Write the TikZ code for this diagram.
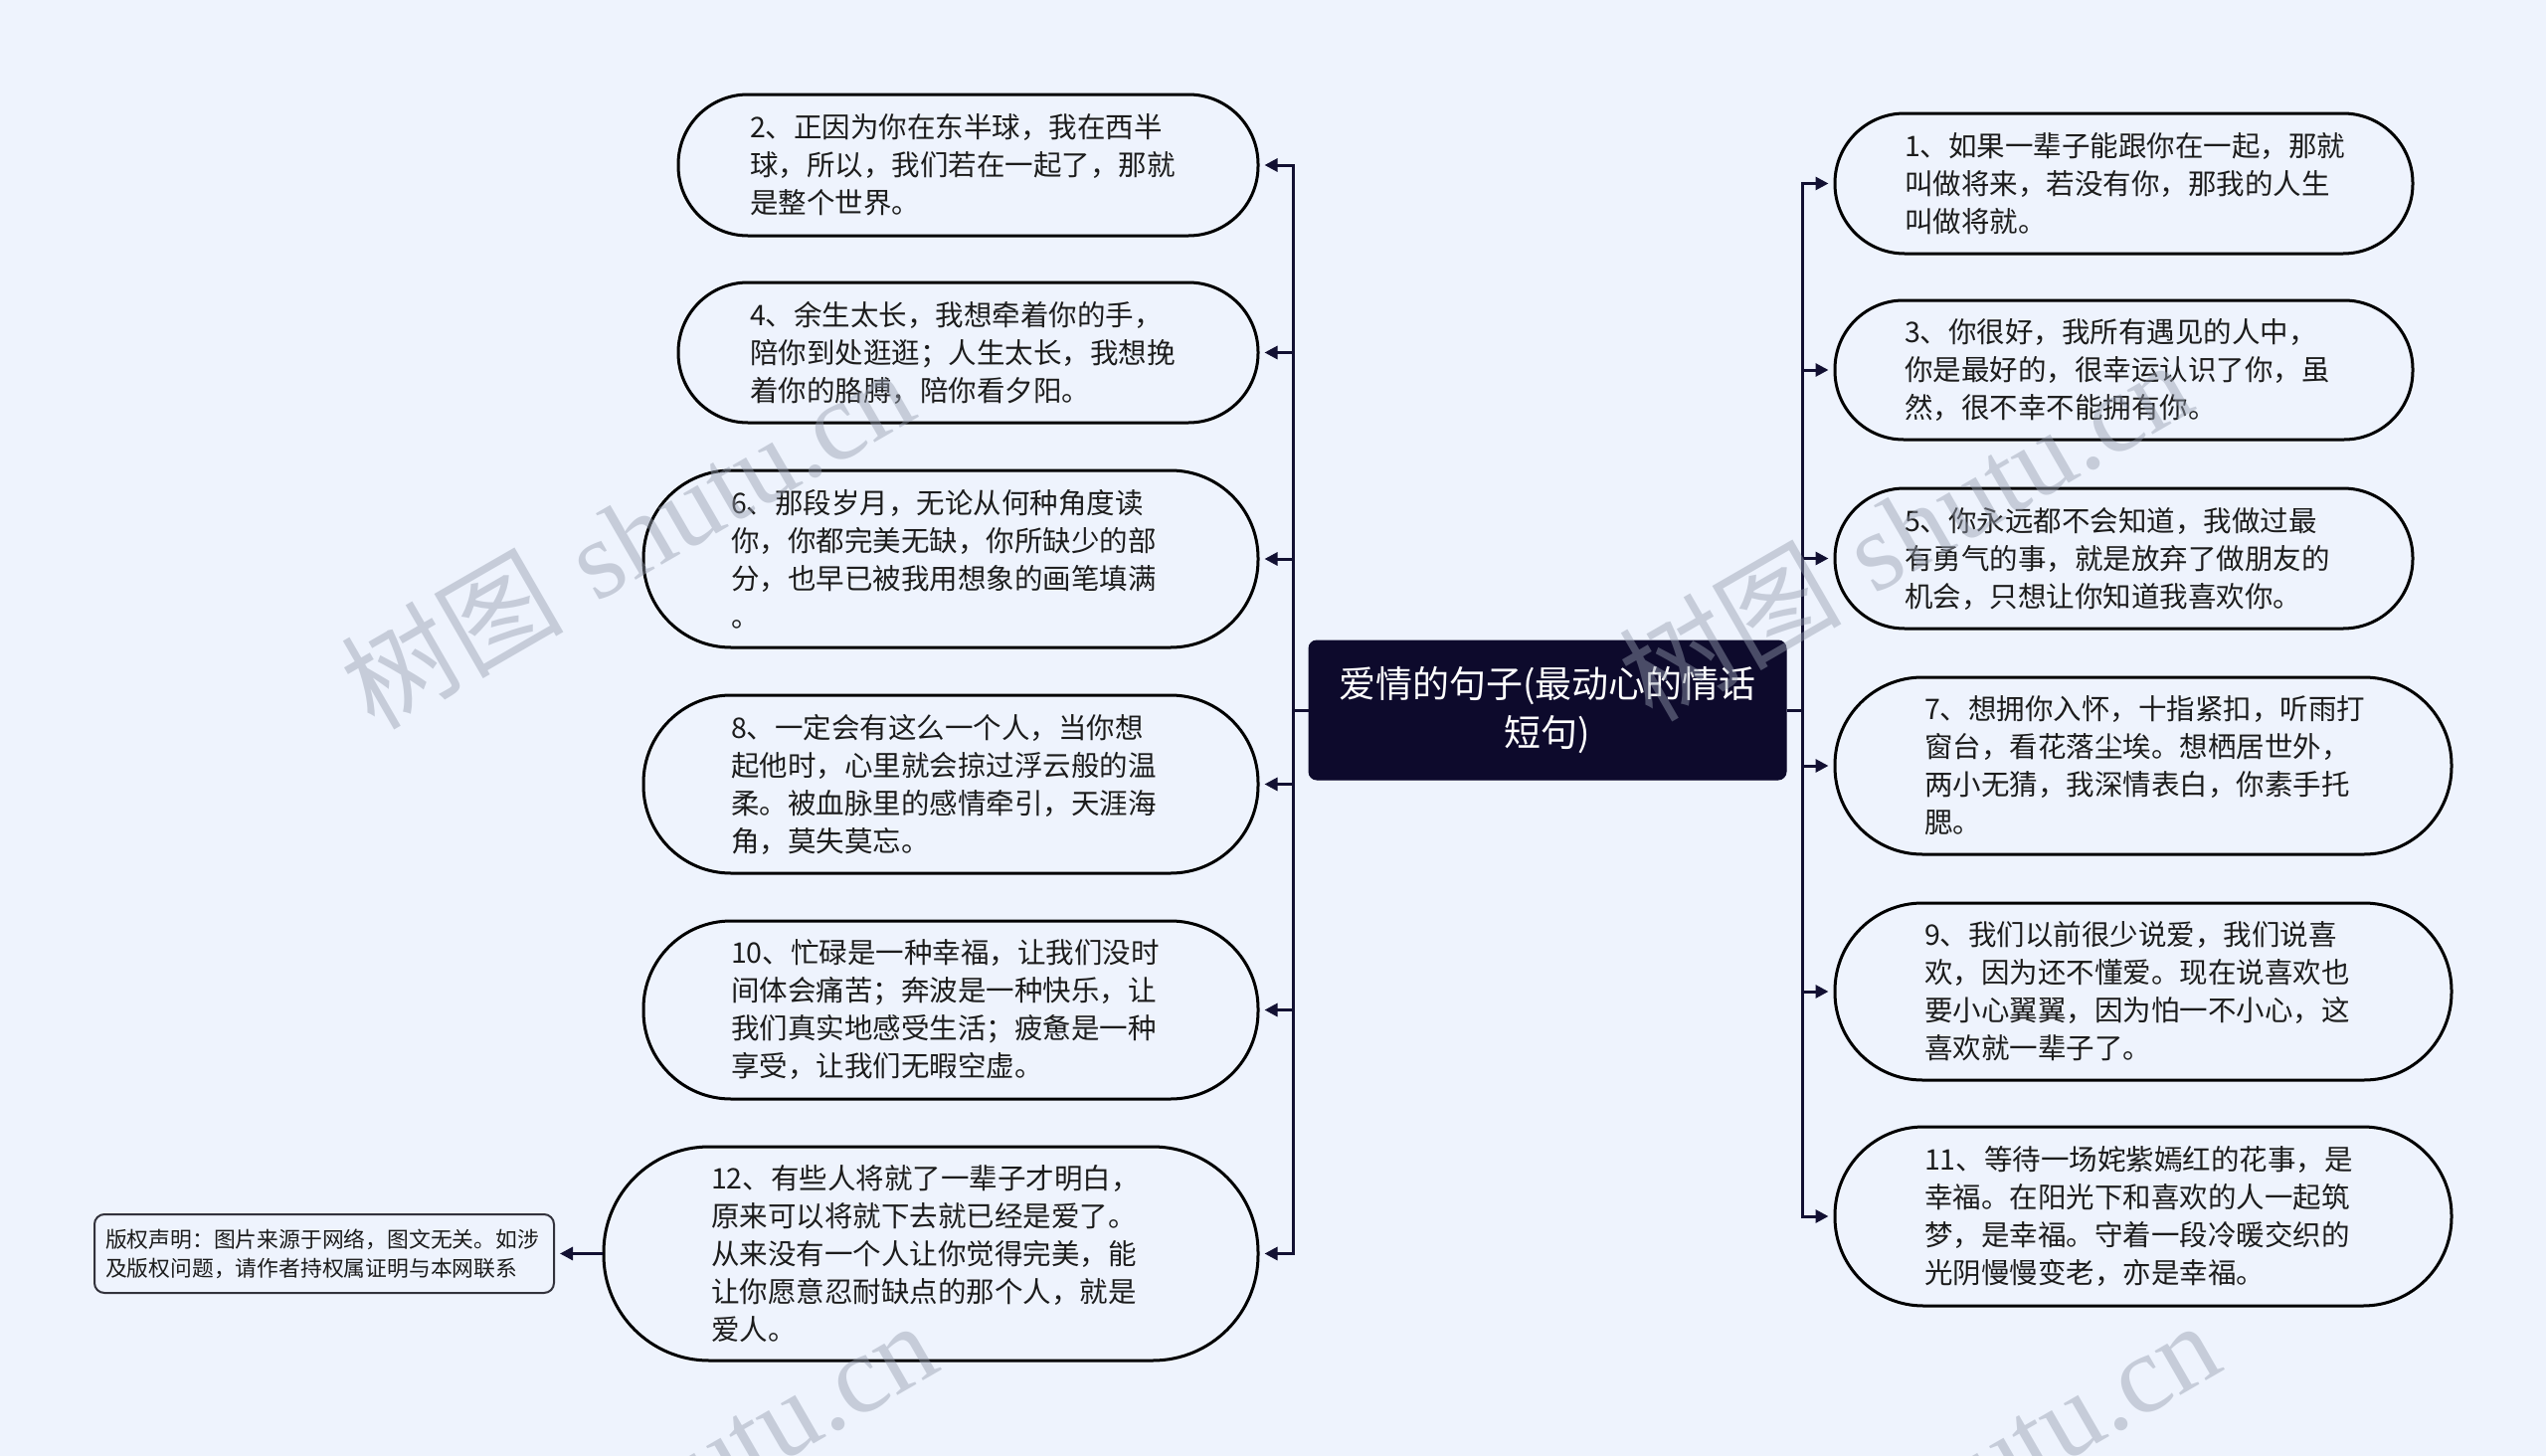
\documentclass[tikz,border=0pt]{standalone}
\usepackage{fontspec}
\newfontfamily\cjk{Noto Sans CJK SC}
\newfontfamily\wmserif{Liberation Serif}
\usetikzlibrary{arrows.meta}
\definecolor{bgc}{RGB}{238,243,253}
\definecolor{rootc}{RGB}{13,10,44}
\definecolor{linec}{RGB}{18,16,50}
\definecolor{txtc}{RGB}{28,28,28}
\definecolor{wmc}{RGB}{150,158,175}
\tikzset{
  leaf/.style={draw=black, line width=3pt, fill=bgc, align=left, text=txtc,
    inner ysep=0pt, font=\cjk\fontsize{28.5}{38}\selectfont},
  rootbox/.style={fill=rootc, draw=rootc, line width=1pt, rounded corners=8pt, text=white,
    align=center, font=\cjk\fontsize{37}{49}\selectfont},
  copybox/.style={draw={rgb,255:red,50;green,50;blue,60}, line width=2pt, fill=bgc, align=left, text=txtc,
    rounded corners=10pt, inner ysep=0pt, font=\cjk\fontsize{21.8}{29}\selectfont},
  conn/.style={draw=linec, line width=3pt},
  arr/.style={draw=linec, line width=3pt, -{Triangle[length=13pt,width=13pt]}, shorten >=5pt},
  wm/.style={text=wmc, opacity=0.45, rotate=30, font=\fontsize{112}{112}\selectfont, inner sep=0pt}
}
\begin{document}
\begin{tikzpicture}[x=1pt,y=-1pt]
\useasboundingbox (0,0) rectangle (2560,1464);
\fill[bgc] (0,0) rectangle (2560,1464);

% root
\node[rootbox, minimum width=480pt, minimum height=140pt] (c) at (1556,714) {爱情的句子(最动心的情话\\短句)};

% left leaves
\node[leaf, minimum width=583pt, minimum height=142pt, text width=439pt, inner xsep=72pt, rounded corners=70pt] (n2) at (973.5,166)
 {2、正因为你在东半球，我在西半\\球，所以，我们若在一起了，那就\\是整个世界。};
\node[leaf, minimum width=583pt, minimum height=141pt, text width=439pt, inner xsep=72pt, rounded corners=70pt] (n4) at (973.5,354.5)
 {4、余生太长，我想牵着你的手，\\陪你到处逛逛；人生太长，我想挽\\着你的胳膊，陪你看夕阳。};
\node[leaf, minimum width=618pt, minimum height=178pt, text width=442pt, inner xsep=88pt, rounded corners=88pt] (n6) at (956,562)
 {6、那段岁月，无论从何种角度读\\你，你都完美无缺，你所缺少的部\\分，也早已被我用想象的画笔填满\\。};
\node[leaf, minimum width=618pt, minimum height=179pt, text width=442pt, inner xsep=88pt, rounded corners=88pt] (n8) at (956,788.5)
 {8、一定会有这么一个人，当你想\\起他时，心里就会掠过浮云般的温\\柔。被血脉里的感情牵引，天涯海\\角，莫失莫忘。};
\node[leaf, minimum width=618pt, minimum height=179pt, text width=442pt, inner xsep=88pt, rounded corners=88pt] (n10) at (956,1015.5)
 {10、忙碌是一种幸福，让我们没时\\间体会痛苦；奔波是一种快乐，让\\我们真实地感受生活；疲惫是一种\\享受，让我们无暇空虚。};
\node[leaf, minimum width=658pt, minimum height=215pt, text width=442pt, inner xsep=108pt, rounded corners=106pt] (n12) at (936,1260.5)
 {12、有些人将就了一辈子才明白，\\原来可以将就下去就已经是爱了。\\从来没有一个人让你觉得完美，能\\让你愿意忍耐缺点的那个人，就是\\爱人。};

% right leaves
\node[leaf, minimum width=581pt, minimum height=141pt, text width=441pt, inner xsep=70pt, rounded corners=70pt] (n1) at (2135.5,184.5)
 {1、如果一辈子能跟你在一起，那就\\叫做将来，若没有你，那我的人生\\叫做将就。};
\node[leaf, minimum width=581pt, minimum height=140pt, text width=441pt, inner xsep=70pt, rounded corners=69pt] (n3) at (2135.5,372)
 {3、你很好，我所有遇见的人中，\\你是最好的，很幸运认识了你，虽\\然，很不幸不能拥有你。};
\node[leaf, minimum width=581pt, minimum height=141pt, text width=441pt, inner xsep=70pt, rounded corners=70pt] (n5) at (2135.5,561.5)
 {5、你永远都不会知道，我做过最\\有勇气的事，就是放弃了做朋友的\\机会，只想让你知道我喜欢你。};
\node[leaf, minimum width=620pt, minimum height=178pt, text width=440pt, inner xsep=90pt, rounded corners=88pt] (n7) at (2155,770)
 {7、想拥你入怀，十指紧扣，听雨打\\窗台，看花落尘埃。想栖居世外，\\两小无猜，我深情表白，你素手托\\腮。};
\node[leaf, minimum width=620pt, minimum height=178pt, text width=440pt, inner xsep=90pt, rounded corners=88pt] (n9) at (2155,997)
 {9、我们以前很少说爱，我们说喜\\欢，因为还不懂爱。现在说喜欢也\\要小心翼翼，因为怕一不小心，这\\喜欢就一辈子了。};
\node[leaf, minimum width=620pt, minimum height=180pt, text width=440pt, inner xsep=90pt, rounded corners=89pt] (n11) at (2155,1223)
 {11、等待一场姹紫嫣红的花事，是\\幸福。在阳光下和喜欢的人一起筑\\梦，是幸福。守着一段冷暖交织的\\光阴慢慢变老，亦是幸福。};

% copyright
\node[copybox, minimum width=462pt, minimum height=79pt, text width=440pt, inner xsep=11pt] (cr) at (326,1260.5)
 {版权声明：图片来源于网络，图文无关。如涉\\及版权问题，请作者持权属证明与本网联系};

% connectors
\coordinate (L) at (1300,714);
\coordinate (R) at (1812,714);
\draw[conn] (c.west) -- (L);
\draw[conn] (c.east) -- (R);
\foreach \n in {n2,n4,n6,n8,n10,n12} { \draw[arr] (L) |- (\n.east); }
\foreach \n in {n1,n3,n5,n7,n9,n11} { \draw[arr] (R) |- (\n.west); }
\draw[arr] (n12.west) -- (cr.east);

% watermarks
\begin{scope}
\clip (0,0) rectangle (2560,1464);
\node[wm] (w1) at (630,540) {{\cjk 树图} {\wmserif shutu.cn}};
\node[wm] (w2) at (1915,532) {{\cjk 树图} {\wmserif shutu.cn}};
\node[wm] (w3) at (653,1498) {{\cjk 树图} {\wmserif shutu.cn}};
\node[wm] (w4) at (1943,1498) {{\cjk 树图} {\wmserif shutu.cn}};
\end{scope}
\end{tikzpicture}
\end{document}
